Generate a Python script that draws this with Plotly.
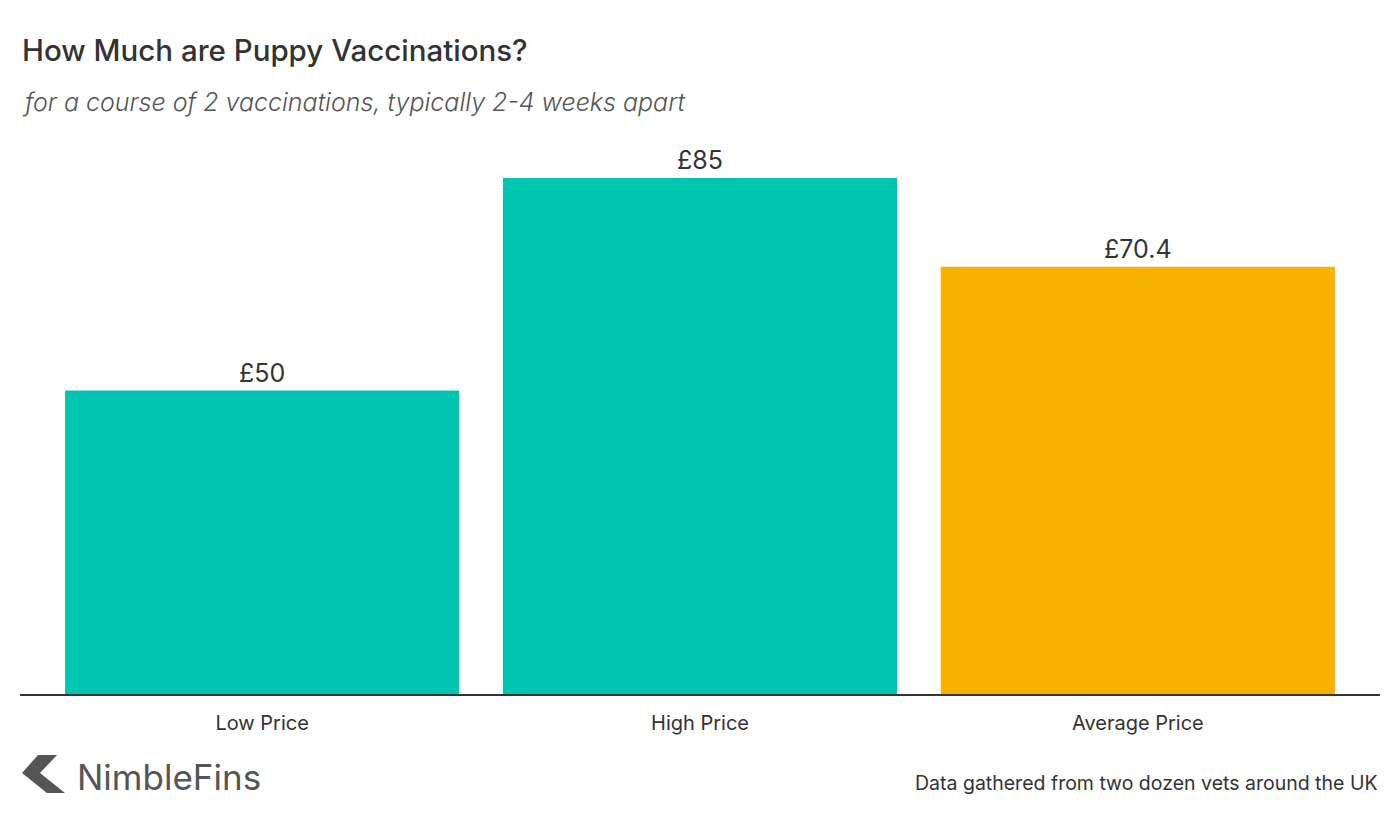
import plotly.graph_objects as go

categories = ["Low Price", "High Price", "Average Price"]
values = [50, 85, 70.4]
labels = ["£50", "£85", "£70.4"]
colors = ["#00C3B0", "#00C3B0", "#F9B200"]

W, H = 1400, 822
L, R, T, B = 20, 20, 140, 128
FONT = "Inter"

fig = go.Figure(go.Bar(
    x=categories, y=values, text=labels, textposition="outside",
    marker=dict(color=colors, line=dict(width=0)),
    textfont=dict(size=25, color="#333333", family=FONT),
    cliponaxis=False, hoverinfo="skip",
))

def px2paper(x, y):
    return (x - L) / (W - L - R), (H - B - y) / (H - T - B)

chev = [(38, 755), (57, 755), (40, 773), (65, 793), (47, 793), (22, 773)]
pts = [px2paper(x, y) for x, y in chev]
path = "M " + " L ".join(f"{x:.5f},{y:.5f}" for x, y in pts) + " Z"

fig.update_layout(
    width=W, height=H, margin=dict(l=L, r=R, t=T, b=B),
    paper_bgcolor="white", plot_bgcolor="white",
    bargap=0.1, showlegend=False,
    font=dict(family=FONT, color="#333333"),
    xaxis=dict(range=[-0.553, 2.553], showline=True, linecolor="#333333", linewidth=2,
               ticks="", tickfont=dict(size=20, color="#333333"), showgrid=False,
               ticklabelstandoff=10),
    yaxis=dict(range=[0, 91.27], visible=False, showgrid=False),
    shapes=[dict(type="path", xref="paper", yref="paper", path=path,
                 fillcolor="#555555", line=dict(width=0))],
    annotations=[
        dict(text="How Much are Puppy Vaccinations?", xref="paper", yref="paper",
             x=px2paper(20, 0)[0], y=px2paper(0, 50)[1], xanchor="left", yanchor="middle",
             showarrow=False, font=dict(size=29.5, color="#333333", family=FONT, weight=500)),
        dict(text="<i>for a course of 2 vaccinations, typically 2-4 weeks apart</i>", xref="paper", yref="paper",
             x=px2paper(20, 0)[0], y=px2paper(0, 102)[1], xanchor="left", yanchor="middle",
             showarrow=False, font=dict(size=25, color="#555555", family=FONT, weight=300)),
        dict(text="NimbleFins", xref="paper", yref="paper",
             x=px2paper(75, 0)[0], y=px2paper(0, 777)[1], xanchor="left", yanchor="middle",
             showarrow=False, font=dict(size=35, color="#555555", family=FONT, weight=400)),
        dict(text="Data gathered from two dozen vets around the UK", xref="paper", yref="paper",
             x=1, y=px2paper(0, 783)[1], xanchor="right", yanchor="middle",
             showarrow=False, font=dict(size=19.5, color="#333333", family=FONT)),
    ],
)

fig.write_html("out.html")
